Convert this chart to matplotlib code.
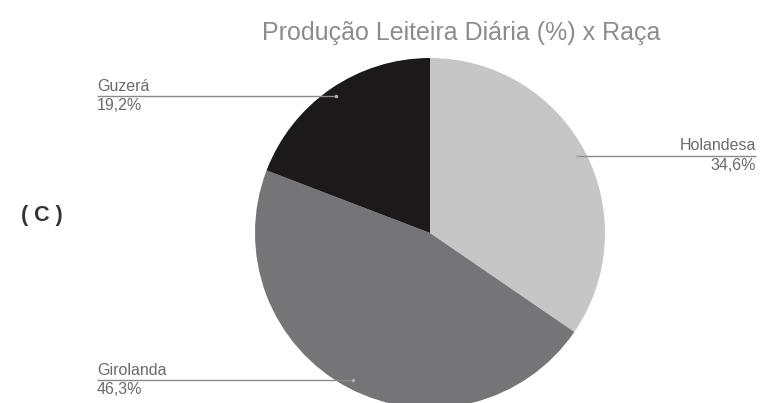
import numpy as np
import matplotlib
matplotlib.use("Agg")
import matplotlib.pyplot as plt

plt.rcParams["font.family"] = ["Liberation Sans", "DejaVu Sans"]

breeds = ["Holandesa", "Girolanda", "Guzerá"]
shares = [34.6, 46.3, 19.2]
pct_labels = ["34,6%", "46,3%", "19,2%"]
colors = ["#c6c6c6", "#757578", "#1c191a"]

W, H = 763, 403
fig = plt.figure(figsize=(W / 100, H / 100), dpi=100)
ax = fig.add_axes([0, 0, 1, 1])

cx, cy, r = 430, H - 233, 175
wedges, _ = ax.pie(shares, colors=colors, startangle=90, counterclock=False,
                   center=(cx, cy), radius=r, frame=True,
                   wedgeprops=dict(linewidth=0))
ax.set_xlim(0, W)
ax.set_ylim(0, H)
ax.set_aspect("equal")
ax.axis("off")

# label anchors: where the leader line ends and the text sits
text_x = {"Holandesa": 756, "Girolanda": 97, "Guzerá": 97}
line_col = "#8a8a8a"
txt_col = "#6a6a6a"
for w, name, pct in zip(wedges, breeds, pct_labels):
    mid = np.deg2rad((w.theta1 + w.theta2) / 2)
    px = cx + 0.95 * r * np.cos(mid)
    py = cy + 0.95 * r * np.sin(mid)
    tx = text_x[name]
    ax.plot([px, tx], [py, py], color=line_col, lw=1.0, solid_capstyle="butt")
    ax.plot(px, py, "o", color="#b0b0b0", ms=2.5, mec="none")
    ha = "right" if tx > cx else "left"
    ax.text(tx, py + 2.5, name, ha=ha, va="bottom", fontsize=11.5, color=txt_col)
    ax.text(tx, py - 2, pct, ha=ha, va="top", fontsize=11.5, color=txt_col)

ax.text(461, H - 33, "Produção Leiteira Diária (%) x Raça", ha="center", va="center",
        fontsize=18, color="#8c8c8c")
ax.text(42, H - 215, "( C )", ha="center", va="center", fontsize=15.5,
        fontweight="bold", color="#333333")

fig.savefig("out.png", dpi=100)
